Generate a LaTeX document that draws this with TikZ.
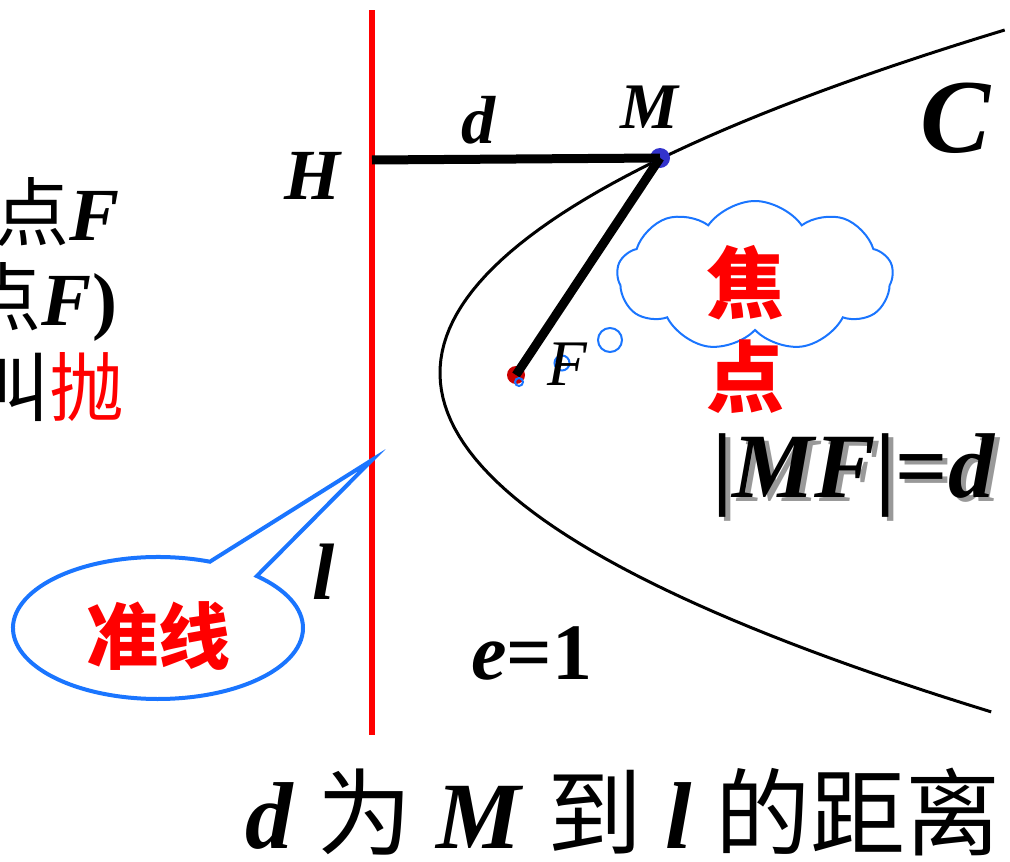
\documentclass[tikz,border=0pt]{standalone}
\usepackage{fontspec}
\setmainfont{Liberation Serif}
\newfontfamily\cjk{Noto Sans CJK SC}
\usetikzlibrary{shapes.symbols,shapes.callouts,positioning}

\definecolor{bluedot}{RGB}{51,51,204}
\definecolor{reddot}{RGB}{204,0,0}
\definecolor{lineblue}{RGB}{26,117,255}

\newcommand{\fsz}[1]{\fontsize{#1}{#1}\selectfont}
\newcommand{\zh}[1]{{\cjk #1}}

\begin{document}
\begin{tikzpicture}[
    x=1pt, y=-1pt,
    every node/.style={inner sep=0pt, outer sep=0pt},
    sym/.style={font=\fsz{#1}\bfseries\itshape},
    hanzi/.style={font=\fsz{#1}\cjk\bfseries, text=red},
    directrix/.style={draw=red, line width=6pt},
    seg/.style={draw=black, line width=9pt},
    curve/.style={draw=black, line width=3pt},
    bubble/.style={circle, draw=lineblue, line width=2pt},
    thought/.style={cloud, draw=lineblue, line width=2pt, cloud puffs=9, cloud puff arc=110, aspect=1.9},
    speech/.style={ellipse callout, draw=lineblue, line width=4pt, callout pointer arc=22}
]
\useasboundingbox (0,0) rectangle (1010,862);
\clip (0,0) rectangle (1010,862);

% Parabola C
\draw[curve] plot[domain=-3.43:3.39, samples=90, variable=\s] ({440+48*\s*\s}, {373+100*\s});

% Directrix l
\coordinate (ltop) at (372,10);
\coordinate (lbot) at (372,735);
\coordinate (Hfoot) at (372,160);
\coordinate (tip) at (372,460);
\draw[directrix] (ltop) -- (lbot);

% Thought cloud
\node[thought, minimum width=276, minimum height=150] (cloud) at (755,276) {};
\node[bubble, minimum size=24] (b1) at (610,340) {};
\node[bubble, minimum size=15] (b2) at (562,363) {};

% Points M and F
\node[circle, fill=bluedot, minimum size=20] (M) at (660,158) {};
\node[circle, fill=reddot, minimum size=18] (F) at (516,375) {};
\draw[seg] (Hfoot) -- (M.center);
\draw[seg] (M.center) -- (F.center);
\node[bubble, minimum size=8] (b3) at (519,382) {};

% Labels
\node[sym=72] (Hlbl) at (312,176) {H};
\node[sym=68] (dlbl) at (478,120) {d};
\node[sym=65] (Mlbl) at (649,107) {M};
\node[sym=105] (Clbl) at (956,118) {C};
\node[font=\fsz{65}\itshape] (Flbl) at (567,364) {F};
\node[sym=80] (llbl) at (324,572) {l};
\node[font=\fsz{80}\bfseries] (ecc) at (532,653) {\textit{e}=1};

% Focus note
\node[hanzi=78] (jiao) at (745,283) {焦};
\node[hanzi=78] (dian) at (745,377) {点};
\node[font=\fsz{92}\bfseries, text=black!40, anchor=base west] (eqsh) at (717,501) {|\textit{MF}|=\textit{d}};
\node[font=\fsz{92}\bfseries, anchor=base west] (eq) at (712,497) {|\textit{MF}|=\textit{d}};

% Callout for the directrix
\node[speech, minimum width=290, minimum height=142, callout absolute pointer={(tip)}] (zx) at (158,628) {};
\node[hanzi=72] (zxt) at (158,636) {准线};

% Cut-off text on the left
\node[font=\fsz{75}\bfseries, anchor=base east] (t1) at (120,240) {\zh{\mdseries 点}\textit{F}};
\node[font=\fsz{75}\bfseries, anchor=base east] (t2) at (117,325) {\zh{\mdseries 点}\textit{F})};
\node[font=\fsz{75}, anchor=base east] (t3) at (125,415) {\zh{叫}\zh{\color{red}抛}};

% Caption
\node[font=\fsz{95}, anchor=base west] (cap) at (245,848) {\textbf{\textit{d}} \zh{为} \textbf{\textit{M}} \zh{到} \textbf{\textit{l}} \zh{的距离}};
\end{tikzpicture}
\end{document}
